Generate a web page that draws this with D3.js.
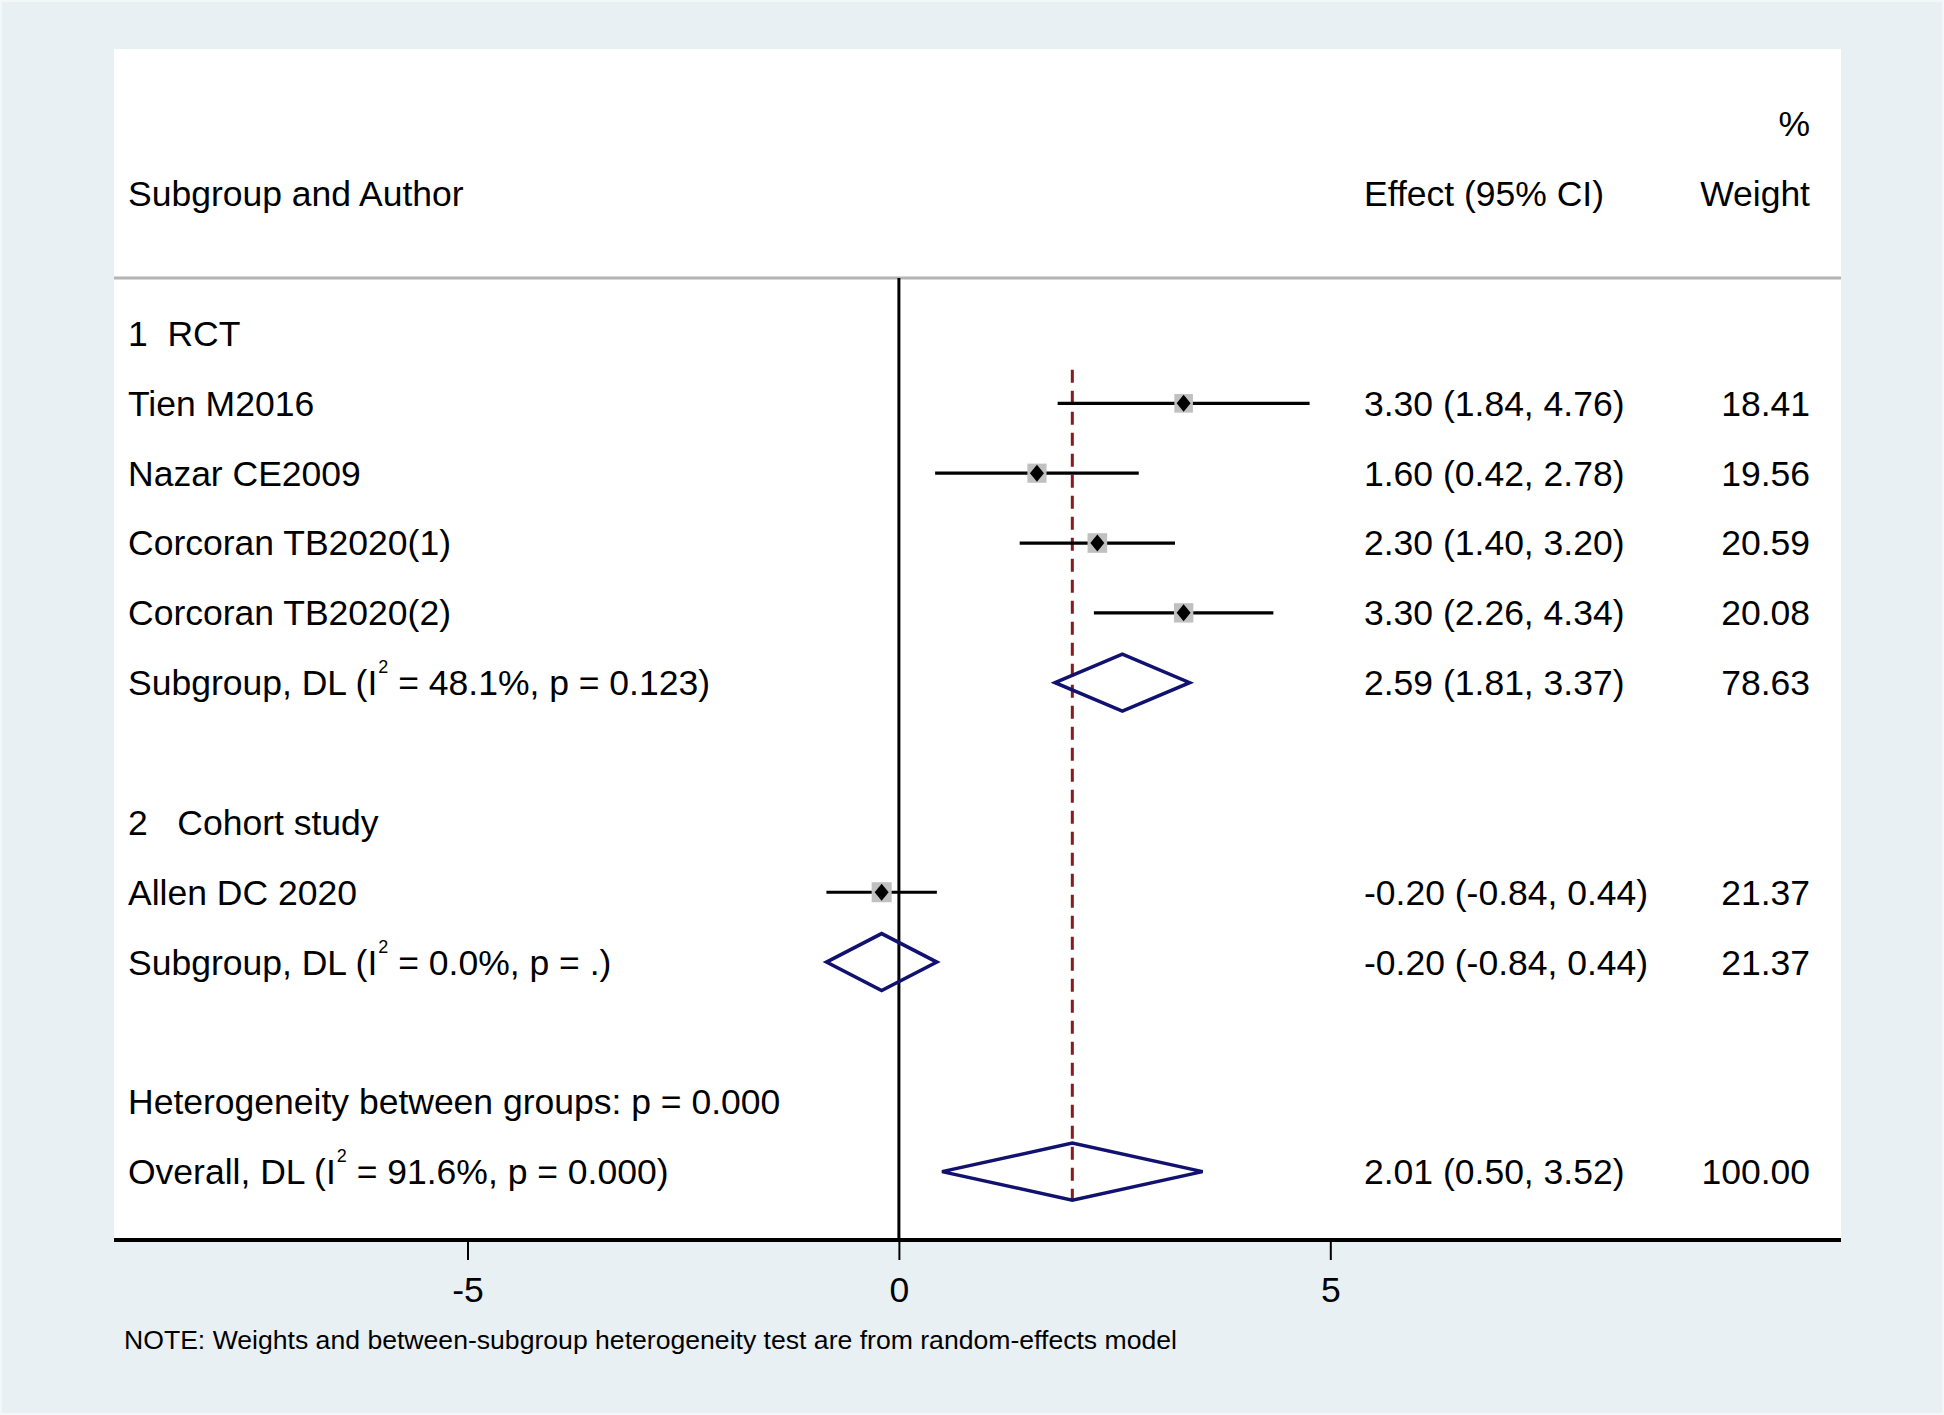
<!DOCTYPE html>
<html>
<head>
<meta charset="utf-8">
<script src="https://cdn.jsdelivr.net/npm/d3@7"></script>
<style>
body{margin:0;background:#e8f0f3;}
svg text{font-family:"Liberation Sans",Arial,sans-serif;fill:#000;}
</style>
</head>
<body>
<svg id="forest"></svg>
<script>
// study level rows
var studyNames = ["Tien M2016","Nazar CE2009","Corcoran TB2020(1)","Corcoran TB2020(2)","Allen DC 2020"];
var studyEffect = [3.30,1.60,2.30,3.30,-0.20];
var studyLower = [1.84,0.42,1.40,2.26,-0.84];
var studyUpper = [4.76,2.78,3.20,4.34,0.44];
var studyWeight = [18.41,19.56,20.59,20.08,21.37];
var studyRow = [1,2,3,4,8];

// pooled rows (subgroups + overall)
var pooledNames = ["Subgroup, DL","Subgroup, DL","Overall, DL"];
var pooledI2 = ["48.1%","0.0%","91.6%"];
var pooledP = ["0.123",".","0.000"];
var pooledEffect = [2.59,-0.20,2.01];
var pooledLower = [1.81,-0.84,0.50];
var pooledUpper = [3.37,0.44,3.52];
var pooledWeight = [78.63,21.37,100.00];
var pooledRow = [5,9,12];

var groupNames = ["1  RCT","2   Cohort study"];
var groupRow = [0,7];
var hetText = "Heterogeneity between groups: p = 0.000";
var hetRow = 11;

var xTicks = [-5,0,5];
var noteText = "NOTE: Weights and between-subgroup heterogeneity test are from random-effects model";

var screen = {width:1944, height:1415};
var panel = {left:114, top:49, right:1841, bottom:1240};
var cols = {label:128, effect:1364, weight:1810};
var fontSize = 35.5;

var svg = d3.select("#forest")
    .attr("width",screen.width)
    .attr("height",screen.height);

svg.append("rect")
    .attr("x",1).attr("y",1)
    .attr("width",screen.width-2).attr("height",screen.height-2)
    .attr("fill","#e8f0f3")
    .attr("stroke","#f3f7f8")
    .attr("stroke-width",2);

svg.append("rect")
    .attr("x",panel.left).attr("y",panel.top)
    .attr("width",panel.right-panel.left)
    .attr("height",panel.bottom-panel.top)
    .attr("fill","#ffffff");

//scales
var xScale = d3.scaleLinear()
    .domain([-5,5])
    .range([467.5,1330.3]);
var yScale = d3.scaleLinear()
    .domain([0,12])
    .range([333.5,1171.6]);
var boxScale = d3.scaleSqrt()
    .domain([0,21.37])
    .range([0,20]);

var fmt = function(v){ return v.toFixed(2); };

var studies = studyNames.map(function(n,i){
    return {name:n, es:studyEffect[i], lo:studyLower[i], hi:studyUpper[i], w:studyWeight[i], row:studyRow[i]};
});
var pooled = pooledNames.map(function(n,i){
    return {name:n, i2:pooledI2[i], p:pooledP[i], es:pooledEffect[i], lo:pooledLower[i], hi:pooledUpper[i], w:pooledWeight[i], row:pooledRow[i]};
});

// header line
svg.append("line")
    .attr("x1",panel.left).attr("x2",panel.right)
    .attr("y1",278).attr("y2",278)
    .attr("stroke","#b4b4b4")
    .attr("stroke-width",3);

// null line
svg.append("line")
    .attr("x1",xScale(0)).attr("x2",xScale(0))
    .attr("y1",278).attr("y2",panel.bottom)
    .attr("stroke","#000")
    .attr("stroke-width",3);

// overall effect line
svg.append("line")
    .attr("x1",xScale(pooledEffect[2])).attr("x2",xScale(pooledEffect[2]))
    .attr("y1",yScale(0.52)).attr("y2",yScale(12)+28.5)
    .attr("stroke","#8b1a1f")
    .attr("stroke-width",3)
    .attr("stroke-dasharray","13,8");

// CIs + markers
var marks = svg.append("g");
marks.selectAll(".ci")
    .data(studies)
    .enter()
    .append("line")
    .attr("x1",function(d){return xScale(d.lo)})
    .attr("x2",function(d){return xScale(d.hi)})
    .attr("y1",function(d){return yScale(d.row)})
    .attr("y2",function(d){return yScale(d.row)})
    .attr("stroke","#000")
    .attr("stroke-width",3.2);

marks.selectAll(".box")
    .data(studies)
    .enter()
    .append("rect")
    .attr("x",function(d){return xScale(d.es)-boxScale(d.w)/2})
    .attr("y",function(d){return yScale(d.row)-boxScale(d.w)/2})
    .attr("width",function(d){return boxScale(d.w)})
    .attr("height",function(d){return boxScale(d.w)})
    .attr("fill","#c0c0c0");

marks.selectAll(".dot")
    .data(studies)
    .enter()
    .append("path")
    .attr("d",function(d){
        var cx = xScale(d.es), cy = yScale(d.row);
        return "M"+(cx-7)+","+cy+"L"+cx+","+(cy-8.5)+"L"+(cx+7)+","+cy+"L"+cx+","+(cy+8.5)+"Z";
    })
    .attr("fill","#000");

marks.selectAll(".diamond")
    .data(pooled)
    .enter()
    .append("path")
    .attr("d",function(d){
        var cy = yScale(d.row);
        return "M"+xScale(d.lo)+","+cy+"L"+xScale(d.es)+","+(cy-28.5)+"L"+xScale(d.hi)+","+cy+"L"+xScale(d.es)+","+(cy+28.5)+"Z";
    })
    .attr("fill","none")
    .attr("stroke","#111170")
    .attr("stroke-width",3.5)
    .attr("stroke-linejoin","miter");

// text columns
var txt = svg.append("g").attr("font-size",fontSize);

txt.append("text").text("%")
    .attr("x",cols.weight).attr("y",yScale(-3)).attr("dy","0.35em")
    .attr("text-anchor","end");
txt.append("text").text("Subgroup and Author")
    .attr("x",cols.label).attr("y",yScale(-2)).attr("dy","0.35em");
txt.append("text").text("Effect (95% CI)")
    .attr("x",cols.effect).attr("y",yScale(-2)).attr("dy","0.35em");
txt.append("text").text("Weight")
    .attr("x",cols.weight).attr("y",yScale(-2)).attr("dy","0.35em")
    .attr("text-anchor","end");

txt.selectAll(".grp")
    .data(groupNames)
    .enter()
    .append("text")
    .text(function(d){return d})
    .style("white-space","pre")
    .attr("x",cols.label)
    .attr("y",function(d,i){return yScale(groupRow[i])})
    .attr("dy","0.35em");

txt.append("text").text(hetText)
    .attr("x",cols.label).attr("y",yScale(hetRow)).attr("dy","0.35em");

var rows = studies.concat(pooled);

txt.selectAll(".effect")
    .data(rows)
    .enter()
    .append("text")
    .text(function(d){return fmt(d.es)+" ("+fmt(d.lo)+", "+fmt(d.hi)+")"})
    .attr("x",cols.effect)
    .attr("y",function(d){return yScale(d.row)})
    .attr("dy","0.35em");

txt.selectAll(".weight")
    .data(rows)
    .enter()
    .append("text")
    .text(function(d){return fmt(d.w)})
    .attr("x",cols.weight)
    .attr("y",function(d){return yScale(d.row)})
    .attr("dy","0.35em")
    .attr("text-anchor","end");

txt.selectAll(".study")
    .data(studies)
    .enter()
    .append("text")
    .text(function(d){return d.name})
    .attr("x",cols.label)
    .attr("y",function(d){return yScale(d.row)})
    .attr("dy","0.35em");

var pl = txt.selectAll(".pooled")
    .data(pooled)
    .enter()
    .append("text")
    .attr("x",cols.label)
    .attr("y",function(d){return yScale(d.row)+12.5});
pl.append("tspan").text(function(d){return d.name+" (I"});
pl.append("tspan").text("2").attr("font-size",18).attr("dy",-22).attr("dx",1);
pl.append("tspan").text(function(d){return " = "+d.i2+", p = "+d.p+")"}).attr("dy",22);

// x axis
svg.append("line")
    .attr("x1",panel.left).attr("x2",panel.right)
    .attr("y1",panel.bottom).attr("y2",panel.bottom)
    .attr("stroke","#000")
    .attr("stroke-width",4);

var xAxis = d3.axisBottom(xScale)
    .tickValues(xTicks)
    .tickSize(19)
    .tickPadding(17)
    .tickFormat(function(d){return String(d)});

var ax = svg.append("g")
    .attr("transform","translate(0,"+(panel.bottom+1)+")")
    .call(xAxis);
ax.select(".domain").remove();
ax.selectAll(".tick line").attr("stroke","#000").attr("stroke-width",2);
ax.selectAll(".tick text")
    .attr("font-size",fontSize)
    .attr("font-family","Liberation Sans, Arial, sans-serif")
    .attr("fill","#000");

svg.append("text")
    .text(noteText)
    .attr("x",124)
    .attr("y",1340)
    .attr("dy","0.35em")
    .attr("font-size",26.6);
</script>
</body>
</html>
